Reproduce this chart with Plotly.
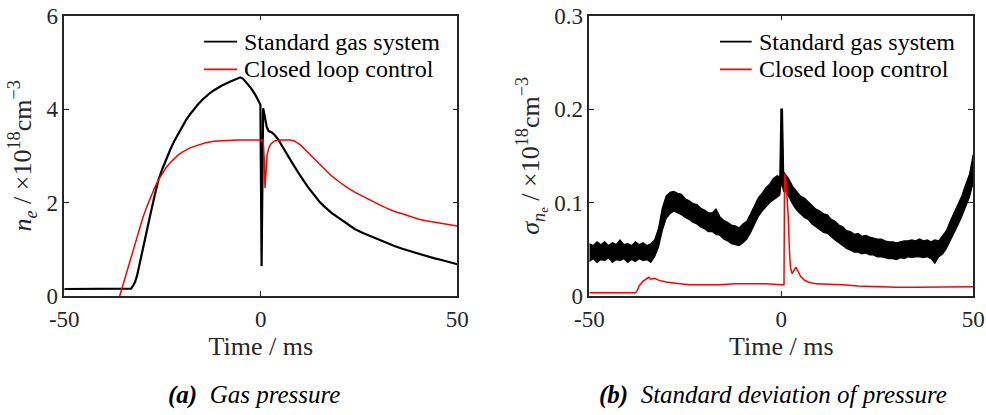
import plotly.graph_objects as go

# ---------------- Panel (a): gas pressure (density) ----------------
t_std_a = [-50, -40, -33.5, -33, -32.5, -32, -31.5, -31, -30.5, -30, -29, -28, -27, -26,
           -25, -24, -23, -22, -21, -20, -19, -18, -17, -16, -15, -14, -13, -12, -11, -10,
           -8, -6, -5.2, -4.5, -3.5, -2.5, -1.5, -0.5, -0.1, 0.2, 0.6, 1.0, 1.5, 2.0, 2.8,
           3.6, 4.5, 5.5, 6.5, 8, 10, 12, 14, 15, 16, 18, 20, 22, 24, 26, 28, 30, 32, 34,
           36, 38, 40, 42, 44, 46, 48, 50]
ne_std = [0.15, 0.15, 0.15, 0.16, 0.22, 0.30, 0.43, 0.63, 0.85, 1.05, 1.40, 1.78, 2.15, 2.50,
          2.73, 2.95, 3.14, 3.32, 3.48, 3.63, 3.77, 3.89, 4.00, 4.10, 4.19, 4.27, 4.34, 4.40,
          4.45, 4.50, 4.58, 4.65, 4.68, 4.65, 4.55, 4.45, 4.32, 4.18, 4.10, 0.64, 4.02, 3.85,
          3.62, 3.53, 3.50, 3.44, 3.34, 3.20, 3.05, 2.85, 2.58, 2.33, 2.12, 2.01, 1.93, 1.78,
          1.66, 1.55, 1.43, 1.35, 1.28, 1.20, 1.13, 1.07, 1.01, 0.96, 0.91, 0.85, 0.81, 0.77,
          0.73, 0.68]

t_cl_a = [-35.9, -35, -34, -33, -32, -31, -30, -29, -28, -27, -26, -25, -24, -23, -22, -21,
          -20, -18, -16, -14, -12, -10, -6, 0.6, 0.9, 1.07, 1.3, 1.6, 2.0, 2.5, 3.5, 5, 7.5,
          8.5, 10, 12, 14, 16, 18, 20, 22, 24, 26, 28, 30, 32, 34, 36, 38, 40, 42, 44, 46,
          48, 50]
ne_cl = [0.0, 0.26, 0.57, 0.85, 1.15, 1.43, 1.68, 1.91, 2.12, 2.32, 2.49, 2.63, 2.76, 2.86,
         2.95, 3.02, 3.08, 3.17, 3.23, 3.28, 3.31, 3.32, 3.34, 3.34, 2.90, 2.31, 2.75, 3.02,
         3.16, 3.25, 3.32, 3.34, 3.34, 3.32, 3.24, 3.07, 2.89, 2.72, 2.57, 2.44, 2.32, 2.22,
         2.13, 2.04, 1.96, 1.88, 1.81, 1.76, 1.70, 1.65, 1.61, 1.58, 1.55, 1.52, 1.50]

# ---------------- Panel (b): standard deviation ----------------
# The standard-gas-system trace is a dense noisy signal; it is drawn as the band
# between its lower and upper excursions.
t_std_b = [-50, -49, -48, -47, -46, -45, -44, -43, -42, -41, -40, -39, -38, -37, -36, -35,
           -34, -33, -32, -31, -30, -29, -28, -27, -26, -25, -24, -23, -22, -21, -20, -19,
           -18, -17, -16, -15, -14, -13, -12, -11, -10, -9, -8, -7, -6, -5, -4, -3, -2, -1,
           -0.4, -0.1, 0.3, 0.6, 1, 2, 3, 4, 5, 6, 7, 8, 9, 10, 11, 12, 13, 14, 15, 16, 17,
           18, 19, 20, 21, 22, 23, 24, 25, 26, 27, 28, 29, 30, 31, 32, 33, 34, 35, 36, 37,
           38, 39, 40, 41, 42, 43, 44, 45, 46, 47, 48, 49, 50]
sd_std_lo = [0.037, 0.040, 0.036, 0.039, 0.038, 0.041, 0.036, 0.039, 0.038, 0.040, 0.036,
             0.039, 0.037, 0.040, 0.038, 0.039, 0.036, 0.042, 0.052, 0.070, 0.083, 0.088,
             0.091, 0.089, 0.087, 0.084, 0.082, 0.079, 0.077, 0.074, 0.072, 0.069, 0.069,
             0.066, 0.065, 0.061, 0.059, 0.056, 0.055, 0.054, 0.057, 0.061, 0.068, 0.077,
             0.085, 0.091, 0.096, 0.100, 0.103, 0.106, 0.108, 0.118, 0.118, 0.112, 0.113,
             0.106, 0.098, 0.092, 0.088, 0.084, 0.082, 0.077, 0.074, 0.071, 0.068, 0.067,
             0.063, 0.060, 0.057, 0.054, 0.051, 0.049, 0.047, 0.047, 0.045, 0.046, 0.044,
             0.044, 0.042, 0.042, 0.041, 0.040, 0.040, 0.039, 0.041, 0.040, 0.042, 0.041,
             0.042, 0.042, 0.041, 0.042, 0.040, 0.035, 0.042, 0.045, 0.051, 0.059, 0.067,
             0.076, 0.085, 0.096, 0.106, 0.122]
sd_std_hi = [0.056, 0.054, 0.058, 0.055, 0.058, 0.054, 0.057, 0.055, 0.060, 0.055, 0.056,
             0.054, 0.058, 0.055, 0.057, 0.054, 0.056, 0.060, 0.072, 0.094, 0.107, 0.111,
             0.112, 0.110, 0.109, 0.104, 0.102, 0.099, 0.098, 0.094, 0.092, 0.089, 0.089,
             0.093, 0.085, 0.081, 0.079, 0.076, 0.075, 0.073, 0.077, 0.080, 0.088, 0.096,
             0.105, 0.110, 0.116, 0.120, 0.126, 0.129, 0.126, 0.200, 0.200, 0.133, 0.131,
             0.125, 0.117, 0.112, 0.107, 0.105, 0.101, 0.098, 0.093, 0.091, 0.088, 0.087,
             0.082, 0.080, 0.076, 0.074, 0.070, 0.069, 0.066, 0.067, 0.064, 0.065, 0.063,
             0.062, 0.061, 0.061, 0.059, 0.058, 0.058, 0.057, 0.058, 0.059, 0.059, 0.060,
             0.059, 0.061, 0.059, 0.060, 0.058, 0.060, 0.059, 0.064, 0.070, 0.080, 0.089,
             0.098, 0.107, 0.119, 0.130, 0.152]

t_cl_b = [-50, -38, -37.5, -37, -36, -35, -34.5, -34, -33, -32, -31, -30, -28, -26, -24,
          -20, -16, -12, -8, -4, 0, 0.7, 0.85, 1.2, 1.5, 1.8, 2.1, 2.4, 2.8, 3.3, 3.8, 4.3,
          5, 6, 7, 9, 12, 16, 20, 25, 30, 35, 40, 45, 50]
sd_cl = [0.0035, 0.0035, 0.006, 0.011, 0.016, 0.019, 0.020, 0.018, 0.019, 0.017, 0.016,
         0.015, 0.014, 0.013, 0.012, 0.012, 0.012, 0.013, 0.013, 0.013, 0.012, 0.012, 0.131,
         0.125, 0.105, 0.085, 0.050, 0.030, 0.024, 0.027, 0.031, 0.027, 0.021, 0.017, 0.015,
         0.013, 0.0128, 0.012, 0.0107, 0.010, 0.0095, 0.0095, 0.0095, 0.0095, 0.010]

x_tickvals = [-50, 0, 50]
x_ticktext = ["-50", "0", "50"]
y_tickvals_a = [0, 2, 4, 6]
y_ticktext_a = ["0", "2", "4", "6"]
y_tickvals_b = [0, 0.1, 0.2, 0.3]
y_ticktext_b = ["0", "0.1", "0.2", "0.3"]

series_names = ["Standard gas system", "Closed loop control"]

SERIF = "Liberation Serif"
AX = "#262626"
BLACK = "#000000"
RED = "#ff0000"

fig = go.Figure()

# Panel (a)
fig.add_trace(go.Scatter(x=t_std_a, y=ne_std, mode="lines", name=series_names[0],
                         line=dict(color=BLACK, width=2.2), xaxis="x", yaxis="y"))
fig.add_trace(go.Scatter(x=t_cl_a, y=ne_cl, mode="lines", name=series_names[1],
                         line=dict(color=RED, width=1.5), xaxis="x", yaxis="y"))

# Panel (b)
fig.add_trace(go.Scatter(x=t_std_b, y=sd_std_lo, mode="lines", name=series_names[0],
                         line=dict(color=BLACK, width=1.2), xaxis="x2", yaxis="y2"))
fig.add_trace(go.Scatter(x=t_std_b, y=sd_std_hi, mode="lines", name=series_names[0],
                         fill="tonexty", fillcolor=BLACK,
                         line=dict(color=BLACK, width=1.2), xaxis="x2", yaxis="y2"))
fig.add_trace(go.Scatter(x=t_cl_b, y=sd_cl, mode="lines", name=series_names[1],
                         line=dict(color=RED, width=1.5), xaxis="x2", yaxis="y2"))

tick_font = dict(family=SERIF, size=23, color=AX)
title_font = dict(family=SERIF, size=26, color=AX)
ytitle_font = dict(family=SERIF, size=26, color=AX)


def axis_style(**kw):
    base = dict(showline=True, linecolor=AX, linewidth=1.6, mirror="allticks",
                ticks="inside", ticklen=5, tickwidth=1.3, tickcolor=AX,
                showgrid=False, zeroline=False, tickfont=tick_font, automargin=False)
    base.update(kw)
    return base


# In-axes legends: key line plus label, one block per panel
legend_shapes = []
legend_notes = []
for x0, x1, xt in [(0.2069, 0.2404, 0.2454), (0.7302, 0.7624, 0.7677)]:
    for name, color, yrow in [(series_names[0], BLACK, 0.8995), (series_names[1], RED, 0.833)]:
        legend_shapes.append(dict(type="line", xref="paper", yref="paper", x0=x0, x1=x1,
                                  y0=yrow, y1=yrow, line=dict(color=color, width=1.8)))
        legend_notes.append(dict(text=name, xref="paper", yref="paper", x=xt, y=yrow,
                                 xanchor="left", yanchor="middle", showarrow=False,
                                 font=dict(family=SERIF, size=24, color=BLACK)))

captions = [
    dict(text="<b><i>(a)</i></b>  <i>Gas pressure</i>", xref="paper", yref="paper",
         x=0.2576, y=0.048, xanchor="center", yanchor="middle", showarrow=False,
         font=dict(family=SERIF, size=25, color=BLACK)),
    dict(text="<b><i>(b)</i></b>  <i>Standard deviation of pressure</i>", xref="paper",
         yref="paper", x=0.784, y=0.048, xanchor="center", yanchor="middle",
         showarrow=False, font=dict(family=SERIF, size=25, color=BLACK)),
]

fig.update_layout(
    template="none",
    width=986, height=415,
    margin=dict(l=0, r=0, t=0, b=0),
    paper_bgcolor="white", plot_bgcolor="white",
    showlegend=False,
    xaxis=axis_style(domain=[0.0652, 0.4638], range=[-50, 50], anchor="y",
                     tickvals=x_tickvals, ticktext=x_ticktext, ticklabelstandoff=2,
                     title=dict(text="Time / ms", font=title_font, standoff=5)),
    yaxis=axis_style(domain=[0.2867, 0.9622], range=[0, 6], anchor="x",
                     tickvals=y_tickvals_a, ticktext=y_ticktext_a,
                     title=dict(text="<i>n</i><sub><i>e</i></sub> / ×10<sup>18</sup>cm<sup>−3</sup>",
                                font=ytitle_font, standoff=7)),
    xaxis2=axis_style(domain=[0.5977, 0.9871], range=[-50, 50], anchor="y2",
                      tickvals=x_tickvals, ticktext=x_ticktext, ticklabelstandoff=2,
                      title=dict(text="Time / ms", font=title_font, standoff=5)),
    yaxis2=axis_style(domain=[0.2867, 0.9622], range=[0, 0.3], anchor="x2",
                      tickvals=y_tickvals_b, ticktext=y_ticktext_b,
                      title=dict(text="<i>σ</i><sub><i>n</i><sub>e</sub></sub> / ×10<sup>18</sup>cm<sup>−3</sup>",
                                 font=ytitle_font, standoff=7)),
    shapes=legend_shapes,
    annotations=legend_notes + captions,
)

fig.write_html("out.html")
